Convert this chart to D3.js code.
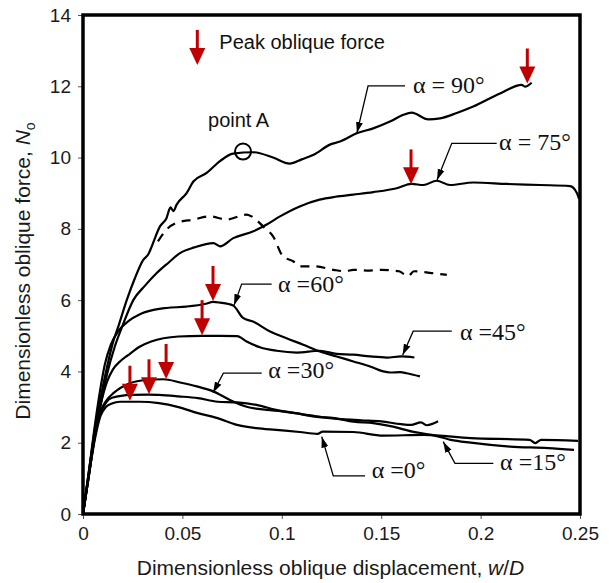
<!DOCTYPE html>
<html>
<head>
<meta charset="utf-8">
<script src="https://cdn.jsdelivr.net/npm/d3@7"></script>
<style>
  body { margin: 0; background: #fff; }
  svg { display: block; font-family: Arial, "Liberation Sans", sans-serif; }
</style>
</head>
<body>
<div id="chart"></div>
<script>
// curves: [w/D, No]
const alpha90 = [[0,0],[0.003,1.2],[0.006,2.4],[0.009,3.3],[0.012,4.1],[0.015,4.8],[0.018,5.3],[0.022,6.0],[0.026,6.6],[0.0303,7.13],[0.033,7.3],[0.0346,7.51],[0.0387,8.07],[0.042,8.3],[0.044,8.6],[0.0455,8.5],[0.0471,8.68],[0.0522,9.01],[0.0555,9.33],[0.0622,9.57],[0.0689,9.9],[0.0755,10.11],[0.0855,10.15],[0.0956,10.0],[0.104,9.83],[0.11,9.95],[0.116,10.08],[0.1245,10.37],[0.1293,10.45],[0.1377,10.68],[0.146,10.82],[0.1544,11.01],[0.1611,11.2],[0.1653,11.26],[0.1737,11.07],[0.1796,11.1],[0.188,11.25],[0.1963,11.43],[0.2098,11.8],[0.2207,12.04],[0.2223,11.99],[0.2257,12.1]];
const alpha75 = [[0,0],[0.003,1.1],[0.006,2.2],[0.009,3.1],[0.012,3.9],[0.016,4.7],[0.02,5.3],[0.0253,6.0],[0.0311,6.4],[0.0371,6.76],[0.043,7.05],[0.0488,7.32],[0.056,7.48],[0.0656,7.6],[0.0689,7.51],[0.0756,7.74],[0.0857,7.93],[0.0924,8.12],[0.0991,8.35],[0.109,8.63],[0.119,8.82],[0.127,8.9],[0.136,8.96],[0.146,9.03],[0.1578,9.14],[0.1653,9.26],[0.1712,9.23],[0.1779,9.35],[0.1846,9.23],[0.1963,9.3],[0.2131,9.26],[0.2299,9.23],[0.245,9.2],[0.2485,9.0],[0.2495,8.85]];
const dashed90 = [[0.0377,7.65],[0.042,7.98],[0.0471,8.17],[0.0555,8.26],[0.0639,8.35],[0.0723,8.26],[0.0823,8.4],[0.0848,8.35],[0.0906,8.07],[0.0956,7.79],[0.1006,7.23],[0.1057,7.09],[0.109,6.95],[0.1165,6.95],[0.126,6.85],[0.132,6.81],[0.136,6.85],[0.144,6.83],[0.15,6.85],[0.159,6.81],[0.1635,6.67],[0.1665,6.81],[0.1754,6.76],[0.183,6.71]];
const alpha60 = [[0,0],[0.003,1.2],[0.006,2.5],[0.009,3.6],[0.011,4.2],[0.014,4.75],[0.018,5.15],[0.023,5.42],[0.0284,5.6],[0.035,5.72],[0.0421,5.78],[0.052,5.82],[0.0618,5.9],[0.0654,5.95],[0.0689,5.93],[0.0755,5.85],[0.0805,5.5],[0.0855,5.4],[0.0941,5.12],[0.1024,4.93],[0.1108,4.75],[0.1192,4.56],[0.1276,4.42],[0.136,4.28],[0.1444,4.14],[0.151,4.0],[0.1545,3.97],[0.1596,3.98],[0.1628,3.95],[0.1695,3.86]];
const alpha45 = [[0,0],[0.003,1.2],[0.006,2.3],[0.009,3.1],[0.012,3.7],[0.015,4.05],[0.019,4.3],[0.0225,4.45],[0.0287,4.7],[0.0343,4.84],[0.048,4.98],[0.0599,5.0],[0.0689,5.0],[0.0775,4.99],[0.0823,4.84],[0.089,4.68],[0.0974,4.58],[0.1075,4.53],[0.1192,4.58],[0.1276,4.49],[0.136,4.47],[0.1444,4.42],[0.1528,4.39],[0.16,4.42],[0.1667,4.39]];
const alpha30 = [[0,0],[0.003,1.1],[0.006,2.2],[0.009,2.9],[0.012,3.2],[0.0153,3.39],[0.0236,3.67],[0.032,3.76],[0.0404,3.78],[0.0488,3.69],[0.0572,3.58],[0.0655,3.44],[0.0739,3.2],[0.0823,3.01],[0.0924,2.92],[0.1,2.88],[0.11,2.8],[0.12,2.72],[0.13,2.66],[0.14,2.63],[0.15,2.6],[0.16,2.52],[0.165,2.5],[0.17,2.57],[0.173,2.49],[0.1786,2.6]];
const alpha15 = [[0,0],[0.003,1.1],[0.006,2.2],[0.009,2.85],[0.0115,3.12],[0.0146,3.26],[0.0245,3.34],[0.0332,3.35],[0.0382,3.34],[0.048,3.3],[0.0578,3.25],[0.0677,3.15],[0.0775,3.13],[0.0873,3.06],[0.0971,2.92],[0.107,2.83],[0.1167,2.73],[0.1265,2.69],[0.136,2.59],[0.146,2.55],[0.156,2.45],[0.1657,2.31],[0.1755,2.22],[0.185,2.08],[0.195,2.0],[0.2148,1.89],[0.234,1.85],[0.247,1.8]];
const alpha0 = [[0,0],[0.003,1.1],[0.006,2.1],[0.0088,2.75],[0.0115,3.0],[0.0145,3.1],[0.0186,3.15],[0.0284,3.15],[0.0382,3.11],[0.048,3.0],[0.0578,2.83],[0.0677,2.69],[0.0775,2.5],[0.0873,2.41],[0.0971,2.36],[0.109,2.3],[0.118,2.25],[0.1206,2.31],[0.136,2.3],[0.151,2.2],[0.1715,2.22],[0.195,2.13],[0.2246,2.08],[0.2275,1.99],[0.2305,2.08],[0.249,2.05]];

// peak oblique force markers
const peaks = [[0.2235,12.05],[0.165,9.22],[0.0654,5.95],[0.0599,4.99],[0.0418,3.76],[0.0332,3.33],[0.0236,3.15]];

// curve labels: text start, baseline, and leader path (to the arrow tip)
const labelText = ["α = 90°", "α = 75°", "α =60°", "α =45°", "α =30°", "α =0°", "α =15°"];
const labelPos = [[0.166,11.81],[0.2093,10.21],[0.0981,6.24],[0.1896,4.88],[0.0932,3.81],[0.1452,1.0],[0.2098,1.23]];
const leaders = [
  [[0.162,12.01],[0.1434,12.01],[0.1378,10.69]],
  [[0.2081,10.4],[0.1855,10.4],[0.1781,9.37]],
  [[0.0949,6.45],[0.0798,6.45],[0.076,5.86]],
  [[0.1855,5.13],[0.1661,5.13],[0.1608,4.46]],
  [[0.0899,3.95],[0.0706,3.95],[0.0654,3.4]],
  [[0.1419,1.07],[0.1259,1.07],[0.1201,2.17]],
  [[0.2064,1.42],[0.1871,1.42],[0.1812,2.03]]
];

const pointA = [0.0805, 10.17];
const legendAt = [0.0575, 12.6];
const xTicks = [0, 0.05, 0.1, 0.15, 0.2, 0.25];
const yTicks = [0, 2, 4, 6, 8, 10, 12, 14];

const width = 613, height = 583;
const margin = { top: 15, right: 33, bottom: 69, left: 83 };
const innerW = width - margin.left - margin.right;
const innerH = height - margin.top - margin.bottom;
const red = "#c00000";

const svg = d3.select("#chart").append("svg")
    .attr("width", width)
    .attr("height", height);

const g = svg.append("g")
    .attr("transform", `translate(${margin.left},${margin.top})`);

const x = d3.scaleLinear().domain([0, 0.25]).range([0, innerW]);
const y = d3.scaleLinear().domain([0, 14]).range([innerH, 0]);

// axes
const xAxis = g.append("g")
    .attr("transform", `translate(0,${innerH})`)
    .call(d3.axisBottom(x).tickValues(xTicks).tickSize(5).tickPadding(8).tickFormat(d => d === 0 ? "0" : String(d)));
const yAxis = g.append("g")
    .call(d3.axisLeft(y).tickValues(yTicks).tickSize(5).tickPadding(7));
[xAxis, yAxis].forEach(a => {
    a.select(".domain").remove();
    a.selectAll("line").attr("stroke", "#555").attr("stroke-width", 1);
    a.selectAll("text")
        .attr("fill", "#1a1a1a")
        .style("font-size", "19px")
        .style("font-family", "Arial, 'Liberation Sans', sans-serif");
});

// frame
g.append("rect")
    .attr("x", 0).attr("y", 0)
    .attr("width", innerW).attr("height", innerH)
    .attr("fill", "none")
    .attr("stroke", "#000")
    .attr("stroke-width", 3.5);

// curves
const line = d3.line().x(d => x(d[0])).y(d => y(d[1]));
const smooth = d3.line().curve(d3.curveMonotoneX).x(d => x(d[0])).y(d => y(d[1]));
[alpha90, alpha75, alpha60, alpha45, alpha30, alpha15, alpha0].forEach(s => {
    g.append("path")
        .attr("d", smooth(s))
        .attr("fill", "none")
        .attr("stroke", "#000")
        .attr("stroke-width", 2.2)
        .attr("stroke-linejoin", "round");
});
g.append("path")
    .attr("d", smooth(dashed90))
    .attr("fill", "none")
    .attr("stroke", "#000")
    .attr("stroke-width", 2.2)
    .attr("stroke-dasharray", "9,7");

// point A
g.append("circle")
    .attr("cx", x(pointA[0])).attr("cy", y(pointA[1]))
    .attr("r", 8)
    .attr("fill", "none")
    .attr("stroke", "#000")
    .attr("stroke-width", 2);
g.append("text")
    .attr("x", x(pointA[0]) - 35).attr("y", y(pointA[1]) - 25)
    .style("font-size", "20px")
    .attr("fill", "#111")
    .text("point A");

// leader lines with small arrow heads
svg.append("defs").append("marker")
    .attr("id", "tip")
    .attr("viewBox", "-11 -4 12 8")
    .attr("refX", 0).attr("refY", 0)
    .attr("markerWidth", 12).attr("markerHeight", 8)
    .attr("markerUnits", "userSpaceOnUse")
    .attr("orient", "auto")
    .append("path")
    .attr("d", "M0,0L-11,-3.5L-11,3.5Z")
    .attr("fill", "#000");

leaders.forEach(pts => {
    g.append("path")
        .attr("d", line(pts))
        .attr("fill", "none")
        .attr("stroke", "#000")
        .attr("stroke-width", 1.3)
        .attr("marker-end", "url(#tip)");
});

labelText.forEach((t, i) => {
    g.append("text")
        .attr("x", x(labelPos[i][0]))
        .attr("y", y(labelPos[i][1]))
        .style("font-family", "'Times New Roman', 'Liberation Serif', serif")
        .style("font-size", "24px")
        .attr("fill", "#111")
        .text(t);
});

// red peak arrows
function peakArrow(px, py) {
    g.append("line")
        .attr("x1", px).attr("x2", px)
        .attr("y1", py - 35).attr("y2", py - 14)
        .attr("stroke", red)
        .attr("stroke-width", 3);
    g.append("path")
        .attr("d", `M${px - 8},${py - 17}L${px + 8},${py - 17}L${px},${py}Z`)
        .attr("fill", red);
}
peaks.forEach(p => peakArrow(x(p[0]), y(p[1]) - 1));

// legend
const legX = x(legendAt[0]), legY = y(legendAt[1]);
peakArrow(legX, legY);
g.append("text")
    .attr("x", legX + 22).attr("y", legY - 16)
    .style("font-size", "20px")
    .attr("fill", "#111")
    .text("Peak oblique force");

// axis titles
svg.append("text")
    .attr("x", margin.left + innerW / 2 - 1)
    .attr("y", 575)
    .attr("text-anchor", "middle")
    .style("font-size", "21px")
    .attr("fill", "#1a1a1a")
    .html('Dimensionless oblique displacement, <tspan font-style="italic">w</tspan>/<tspan font-style="italic">D</tspan>');

svg.append("text")
    .attr("transform", "translate(30,271) rotate(-90)")
    .attr("text-anchor", "middle")
    .style("font-size", "21px")
    .attr("fill", "#1a1a1a")
    .html('Dimensionless oblique force, <tspan font-style="italic">N</tspan><tspan font-size="14px" dy="5">o</tspan>');
</script>
</body>
</html>
